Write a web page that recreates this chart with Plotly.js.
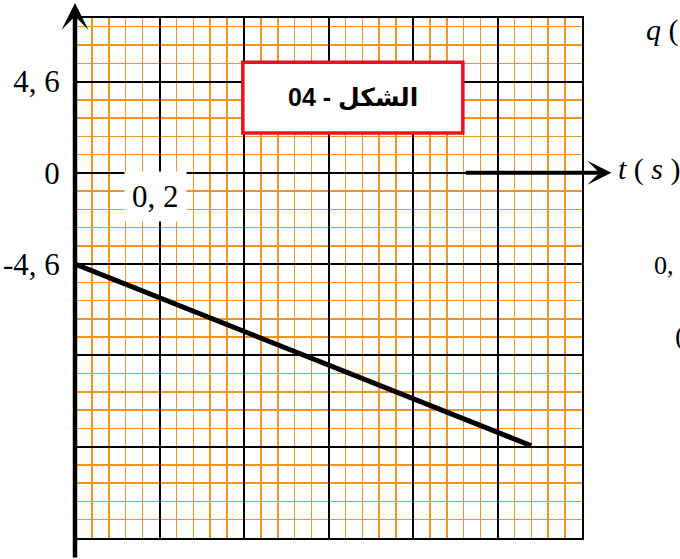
<!DOCTYPE html>
<html>
<head>
<meta charset="utf-8">
<script src="https://cdn.plot.ly/plotly-3.0.1.min.js"></script>
<style>
  html, body { margin: 0; padding: 0; background: #fff; }
</style>
</head>
<body>
<div id="box"></div>
<script>
'use strict'

// charge q (C) against time t (s)
var tValues = [0, 1.08];
var qValues = [-4.6, -13.75];

// labelled major lines of the q axis
var qTickVals = [-18.4, -13.8, -9.2, -4.6, 0, 4.6];
var qTickText = ['', '', '', '-4, 6', '0', '4, 6'];

// one unit marked on the t axis
var tMarkVal = 0.2;
var tMarkText = '0, 2';

var figureTitle = '04 - الشكل';

var orange = 'rgb(244,148,32)';
var serif = 'Liberation Serif, Times New Roman, serif';

var lineTrace = {
    type: 'scatter',
    mode: 'lines',
    x: tValues,
    y: qValues,
    line: {color: '#000', width: 5},
    hoverinfo: 'skip',
    showlegend: false
}

// text placed on the paper, always centred on its point unless told otherwise
function note(x, y, text, size, xanchor){
    return {
        xref: 'paper', yref: 'paper', x: x, y: y,
        xanchor: xanchor || 'center', yanchor: 'middle',
        text: text,
        showarrow: false,
        font: {family: serif, size: size, color: '#000'}
    }
}

var layout = {
    width: 680,
    height: 559,
    margin: {l: 75, r: 98, t: 18, b: 21, pad: 0},
    paper_bgcolor: '#fff',
    plot_bgcolor: '#fff',
    showlegend: false,
    xaxis: {
        range: [0, 1.2],
        tickmode: 'linear',
        tick0: 0,
        dtick: 0.2,
        showticklabels: false,
        ticks: '',
        showgrid: true,
        gridcolor: '#000',
        gridwidth: 2,
        minor: {tickmode: 'linear', tick0: 0, dtick: 0.04, showgrid: true, gridcolor: orange, gridwidth: 1.5},
        zeroline: false,
        showline: true,
        mirror: true,
        linecolor: '#000',
        linewidth: 2,
        fixedrange: true
    },
    yaxis: {
        range: [-18.4, 7.8],
        tickmode: 'array',
        tickvals: qTickVals,
        ticktext: qTickText,
        ticks: '',
        ticklabelstandoff: 7,
        tickfont: {family: serif, size: 31, color: '#000'},
        showgrid: true,
        gridcolor: '#000',
        gridwidth: 2,
        minor: {tickmode: 'linear', tick0: 0, dtick: 0.92, showgrid: true, gridcolor: orange, gridwidth: 1.5},
        zeroline: false,
        showline: true,
        mirror: true,
        linecolor: '#000',
        linewidth: 2,
        fixedrange: true
    },
    shapes: [
        // the red frame of the figure caption
        {
            type: 'rect', xref: 'paper', yref: 'paper',
            x0: 0.331, x1: 0.765, y0: 0.779, y1: 0.915,
            line: {color: 'rgb(230,20,30)', width: 3.5},
            fillcolor: '#fff',
            layer: 'above'
        }
    ],
    annotations: [
        {
            xref: 'paper', yref: 'paper', x: 0.548, y: 0.848,
            xanchor: 'center', yanchor: 'middle',
            text: '<b>' + figureTitle + '</b>',
            showarrow: false,
            font: {family: 'Liberation Sans, DejaVu Sans, sans-serif', size: 25, color: '#000'}
        },
        {
            xref: 'x', yref: 'y', x: tMarkVal, y: -1.2, xshift: -4,
            text: tMarkText,
            showarrow: false,
            bgcolor: '#fff',
            borderpad: 7,
            font: {family: serif, size: 31, color: '#000'}
        },
        // thick q axis with its arrow
        {
            xref: 'paper', yref: 'paper', x: 0, y: 1.029,
            ax: 0, ay: 570,
            text: '', showarrow: true,
            arrowhead: 3, arrowsize: 1, arrowwidth: 4.5, arrowcolor: '#000'
        },
        // thick end of the t axis with its arrow
        {
            xref: 'paper', yref: 'y', x: 1.058, y: 0,
            ax: -147, ay: 0,
            text: '', showarrow: true,
            arrowhead: 3, arrowsize: 1, arrowwidth: 4, arrowcolor: '#000'
        },
        {
            xref: 'paper', yref: 'y', x: 1.068, y: 0.2,
            xanchor: 'left', yanchor: 'middle',
            text: '<i>t</i> ( <i>s</i> )',
            showarrow: false,
            font: {family: serif, size: 30, color: '#000'}
        },
        // pieces of the neighbouring figure, cut by the edges
        note(0.063, 1.075, '(<i>C</i>)', 28),
        note(1.122, 0.977, '<i>q</i> ( <i>C</i> )', 30, 'left'),
        note(1.139, 0.524, '0, 2', 26, 'left'),
        note(1.18, 0.39, '(', 28, 'left')
    ]
};

Plotly.newPlot('box', [lineTrace], layout, {displayModeBar: false, staticPlot: true});
</script>
</body>
</html>
